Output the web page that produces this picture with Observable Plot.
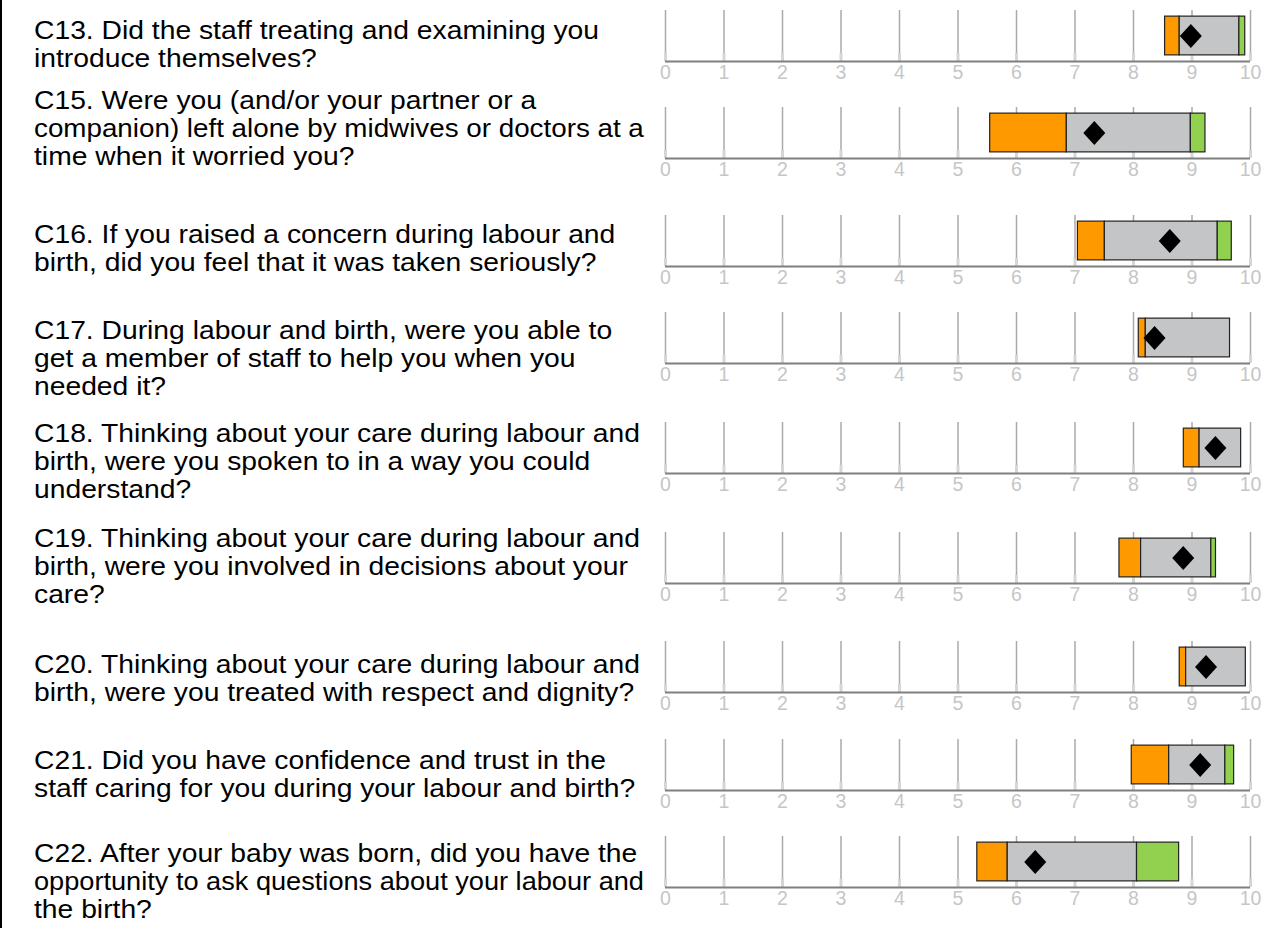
<!DOCTYPE html>
<html>
<head>
<meta charset="utf-8">
<script src="https://cdn.jsdelivr.net/npm/d3@7"></script>
<script src="https://cdn.jsdelivr.net/npm/@observablehq/plot@0.6"></script>
<style>
  html, body { margin: 0; padding: 0; background: #fff; }
  #page { position: relative; width: 1267px; height: 928px; overflow: hidden; background: #fff; }
  #border { position: absolute; left: 0; top: 0; width: 2px; height: 928px; background: #000; }
  .q { position: absolute; left: 34px; font-family: "Liberation Sans", Arial, sans-serif;
       font-size: 26px; line-height: 28.3px; color: #000; }
  .q .ln { display: block; width: max-content; white-space: pre; transform-origin: 0 0; }
</style>
</head>
<body>
<div id="page"><div id="border"></div></div>
<script>
// ---- data ----
const questions = [
  "C13. Did the staff treating and examining you\nintroduce themselves?",
  "C15. Were you (and/or your partner or a\ncompanion) left alone by midwives or doctors at a\ntime when it worried you?",
  "C16. If you raised a concern during labour and\nbirth, did you feel that it was taken seriously?",
  "C17. During labour and birth, were you able to\nget a member of staff to help you when you\nneeded it?",
  "C18. Thinking about your care during labour and\nbirth, were you spoken to in a way you could\nunderstand?",
  "C19. Thinking about your care during labour and\nbirth, were you involved in decisions about your\ncare?",
  "C20. Thinking about your care during labour and\nbirth, were you treated with respect and dignity?",
  "C21. Did you have confidence and trust in the\nstaff caring for you during your labour and birth?",
  "C22. After your baby was born, did you have the\nopportunity to ask questions about your labour and\nthe birth?"
];
const worseFrom  = [8.54, 5.55, 7.05, 8.09, 8.86, 7.76, 8.79, 7.97, 5.33];
const sameFrom   = [8.79, 6.86, 7.51, 8.21, 9.13, 8.13, 8.90, 8.61, 5.85];
const betterFrom = [9.81, 8.98, 9.44, 9.65, 9.84, 9.33, 9.92, 9.57, 8.06];
const betterTo   = [9.91, 9.23, 9.68, 9.65, 9.84, 9.41, 9.92, 9.72, 8.78];
const scores     = [8.98, 7.33, 8.62, 8.36, 9.40, 8.85, 9.24, 9.14, 6.32];
const tickValues = [0, 1, 2, 3, 4, 5, 6, 7, 8, 9, 10];

// ---- layout ----
const textY = [30, 100, 234, 330, 433, 538, 664, 760, 853];  // first line centre
const axisY = [61, 158, 266, 363, 473, 583, 692, 790, 887];
const textStretch = 1.087, textMaxW = 610;
const colors = {worse: "#ff9900", same: "#c4c5c6", better: "#92d050"};

const diamond = {
  draw(ctx) {
    ctx.moveTo(0, -12); ctx.lineTo(11, 0); ctx.lineTo(0, 12); ctx.lineTo(-11, 0); ctx.closePath();
  }
};

const page = document.getElementById("page");
questions.forEach((q, i) => {
  const t = document.createElement("div");
  t.className = "q";
  t.style.top = (textY[i] - 14.15) + "px";
  page.appendChild(t);
  q.split("\n").forEach(line => {
    const s = document.createElement("span");
    s.className = "ln";
    s.textContent = line;
    t.appendChild(s);
    const w = s.offsetWidth;
    const k = Math.min(textStretch, textMaxW / w);
    s.style.transform = `scaleX(${k})`;
  });

  const segs = [
    {band: "worse", x1: worseFrom[i], x2: sameFrom[i]},
    {band: "same", x1: sameFrom[i], x2: betterFrom[i]},
    {band: "better", x1: betterFrom[i], x2: betterTo[i]}
  ].filter(d => d.x2 > d.x1);

  const plot = Plot.plot({
    width: 627,
    height: 88,
    marginLeft: 25,
    marginRight: 17,
    marginTop: 9,
    marginBottom: 28,
    style: {color: "#c6c6c6", fontFamily: "Liberation Sans, Arial, sans-serif", background: "transparent"},
    x: {domain: [0, 10], axis: null},
    y: {domain: [0, 1], axis: null},
    marks: [
      Plot.ruleX(tickValues, {x: d => d, y1: 0, y2: 1, stroke: "#aaaaaa", strokeWidth: 1.5}),
      Plot.ruleX(tickValues, {x: d => d, y1: 0, y2: 0.16, stroke: "#d6d6d6", strokeWidth: 3}),
      Plot.ruleY([0], {x1: 0, x2: 10, stroke: "#7f7f7f", strokeWidth: 2}),
      Plot.axisX(tickValues, {tickSize: 0, tickPadding: 4, fontSize: 19.5, tickFormat: d => String(d)}),
      Plot.rectX(segs, {x1: "x1", x2: "x2", y1: 0.12, y2: 0.88,
        fill: d => colors[d.band], stroke: "#222", strokeWidth: 1.2}),
      Plot.dot([scores[i]], {x: d => d, y: 0.5, symbol: diamond, fill: "#000", stroke: "none"})
    ]
  });
  plot.style.position = "absolute";
  plot.style.left = "640px";
  plot.style.top = (axisY[i] - 60) + "px";
  page.appendChild(plot);
});
</script>
</body>
</html>
